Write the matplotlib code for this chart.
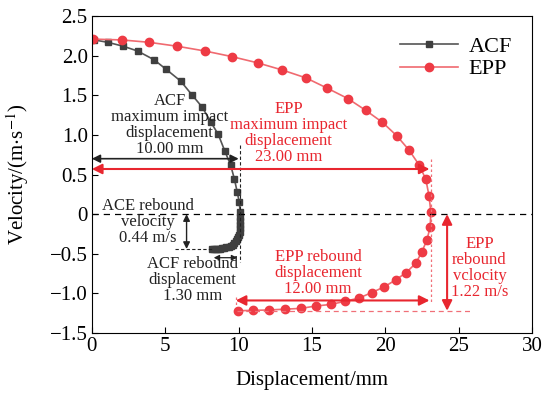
import numpy as np
import matplotlib.pyplot as plt
from matplotlib.ticker import FuncFormatter

plt.rcParams['font.family'] = ['Liberation Serif', 'DejaVu Serif']
plt.rcParams['mathtext.fontset'] = 'stix'

# ACF: impact branch followed by the rebound tail
acf_x = [0.15, 1.07, 2.14, 3.11, 4.23, 5.05, 6.05, 6.80, 7.52, 8.11, 8.60, 9.05,
         9.45, 9.70, 9.90, 10.04, 10.10,
         10.12, 10.12, 10.11, 10.09, 10.06, 10.02, 9.96, 9.89, 9.80, 9.70, 9.58,
         9.45, 9.31, 9.17, 9.02, 8.87, 8.72, 8.57, 8.43, 8.30, 8.20]
acf_v = [2.20, 2.17, 2.12, 2.06, 1.95, 1.83, 1.68, 1.51, 1.35, 1.16, 1.01, 0.80,
         0.62, 0.45, 0.28, 0.15, 0.03,
         -0.04, -0.09, -0.14, -0.18, -0.22, -0.26, -0.29, -0.32, -0.345, -0.365, -0.385,
         -0.40, -0.41, -0.42, -0.427, -0.432, -0.436, -0.439, -0.44, -0.44, -0.44]

# EPP
epp_x = [0.10, 2.02, 3.89, 5.82, 7.70, 9.52, 11.30, 12.97, 14.59, 16.04, 17.43, 18.66,
         19.79, 20.77, 21.60, 22.30, 22.75, 22.97, 23.09, 23.05, 22.82, 22.47, 22.07,
         21.40, 20.70, 19.90, 19.07, 18.20, 17.25, 16.29, 15.25, 14.25, 13.16, 12.07,
         11.00, 9.93]
epp_v = [2.21, 2.20, 2.17, 2.12, 2.06, 1.99, 1.91, 1.82, 1.72, 1.59, 1.46, 1.31,
         1.16, 0.99, 0.81, 0.62, 0.44, 0.23, 0.03, -0.16, -0.33, -0.48, -0.62,
         -0.74, -0.83, -0.92, -0.99, -1.06, -1.10, -1.14, -1.16, -1.19, -1.20, -1.21,
         -1.215, -1.22]

acf_max_disp = 10.00
epp_max_disp = 23.00
acf_rebound_v = 0.44
epp_rebound_v = 1.22
epp_rebound_disp = 12.00

black = '#222222'
red = '#e8262f'
pink = '#f07078'

fig = plt.figure(figsize=(5.47, 3.94), dpi=100)
ax = fig.add_axes([0.168, 0.155, 0.805, 0.804])

ax.plot(acf_x, acf_v, '-s', color='#555555', mfc='#3f3f3f', mec='#3f3f3f',
        ms=5, lw=1.2, label='ACF')
ax.plot(epp_x, epp_v, '-o', color='#f06a70', mfc='#ee3b45', mec='#ee3b45',
        ms=6, lw=1.2, label='EPP')

# zero line
ax.axhline(0, color='black', ls=(0, (5, 4)), lw=0.9)


def arrow(x0, y0, x1, y1, color, lw=1.2, ms=12):
    ax.annotate('', xy=(x1, y1), xytext=(x0, y0),
                arrowprops=dict(arrowstyle='<|-|>', color=color, lw=lw,
                                mutation_scale=ms, shrinkA=0, shrinkB=0))


# ACF guides
arrow(0, 0.70, acf_max_disp, 0.70, black)
ax.plot([10.1, 10.1], [0.87, -0.60], color=black, ls=(0, (3, 2)), lw=0.8)
ax.plot([5.66, 8.2], [-acf_rebound_v, -acf_rebound_v], color=black, ls=(0, (3, 2)), lw=0.8)
arrow(6.45, 0, 6.45, -acf_rebound_v, black, lw=1.0, ms=10)
arrow(8.3, -0.55, 9.9, -0.55, black, lw=0.9, ms=8)

# EPP guides
arrow(0, 0.57, epp_max_disp, 0.57, red, lw=1.5, ms=15)
ax.plot([23.1, 23.1], [0.70, -1.12], color=pink, ls=(0, (2, 2)), lw=0.9)
ax.plot([9.9, 25.8], [-epp_rebound_v, -epp_rebound_v], color=pink, ls=(0, (4, 3)), lw=0.9)
ax.plot([9.8, 9.8], [-1.05, -1.17], color=pink, ls=(0, (2, 2)), lw=0.9)
arrow(23.0 - epp_rebound_disp - 1.2, -1.09, 23.0, -1.09, red, lw=1.5, ms=15)
arrow(24.2, 0, 24.2, -epp_rebound_v, red, lw=1.5, ms=15)

fs = 12
ls = 1.0
ax.text(5.3, 1.12, 'ACF\nmaximum impact\ndisplacement\n10.00 mm', color=black,
        ha='center', va='center', fontsize=fs, linespacing=ls)
ax.text(13.4, 1.02, 'EPP\nmaximum impact\ndisplacement\n23.00 mm', color=red,
        ha='center', va='center', fontsize=fs, linespacing=ls)
ax.text(3.8, -0.10, 'ACE rebound\nvelocity\n0.44 m/s', color=black,
        ha='center', va='center', fontsize=fs, linespacing=ls)
ax.text(6.86, -0.83, 'ACF rebound\ndisplacement\n1.30 mm', color=black,
        ha='center', va='center', fontsize=fs, linespacing=ls)
ax.text(15.4, -0.74, 'EPP rebound\ndisplacement\n12.00 mm', color=red,
        ha='center', va='center', fontsize=fs, linespacing=ls)
ax.text(26.4, -0.68, 'EPP\nrebound\nvclocity\n1.22 m/s', color=red,
        ha='center', va='center', fontsize=fs, linespacing=ls)

ax.set_xlim(0, 30)
ax.set_ylim(-1.5, 2.5)
ax.set_xticks(np.arange(0, 31, 5))
ax.set_yticks(np.arange(-1.5, 2.51, 0.5))
ax.yaxis.set_major_formatter(FuncFormatter(
    lambda v, p: '0' if abs(v) < 1e-9 else f'{v:.1f}'.replace('-', '\u2212')))
ax.tick_params(direction='in', length=4, labelsize=15, top=False, right=False, pad=3)
ax.set_xlabel('Displacement/mm', fontsize=15)
ax.set_ylabel('Velocity/(m$\\cdot$s$^{-1}$)', fontsize=15)
ax.yaxis.set_label_coords(-0.138, 0.5)
ax.xaxis.set_label_coords(0.5, -0.12)

ax.legend(loc='upper right', frameon=False, fontsize=16, handlelength=2.6,
          borderaxespad=0.5, labelspacing=0.1, handletextpad=0.5)

fig.savefig('out.png', dpi=100)
